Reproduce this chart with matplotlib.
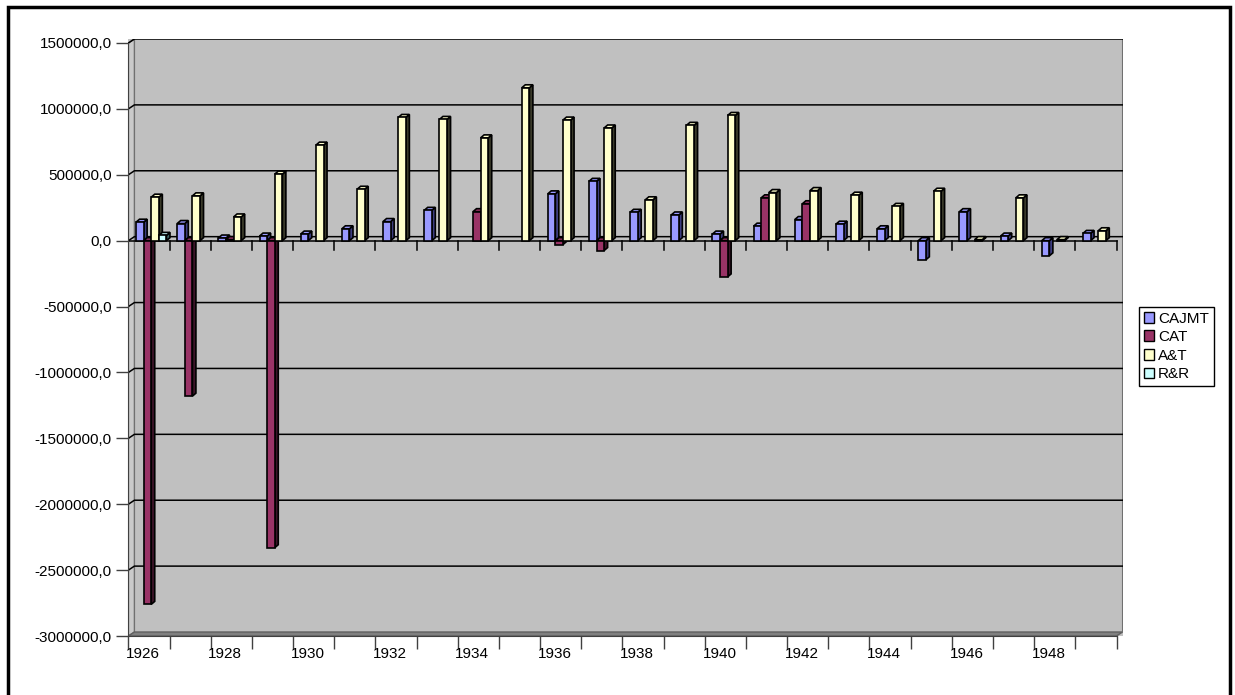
import matplotlib
matplotlib.use("Agg")
import matplotlib.pyplot as plt
import numpy as np
from matplotlib.patches import Polygon, Rectangle, Patch
from matplotlib.ticker import FuncFormatter

plt.rcParams["font.family"] = ["Liberation Sans", "DejaVu Sans"]

years = list(range(1926, 1950))
series_names = ["CAJMT", "CAT", "A&T", "R&R"]
cajmt = [140000, 130000, 20000, 35000, 50000, 90000, 145000, 230000, 0, 0, 355000, 450000,
         215000, 195000, 50000, 110000, 160000, 125000, 90000, -145000, 220000, 35000, -115000, 55000]
cat = [-2760000, -1180000, 8000, -2330000, 0, 0, 0, 0, 220000, 0, -30000, -75000,
       0, 0, -275000, 325000, 280000, 0, 0, 0, 0, 0, 0, 0]
a_t = [330000, 340000, 180000, 505000, 725000, 390000, 935000, 920000, 780000, 1160000, 915000, 855000,
       310000, 875000, 950000, 365000, 380000, 345000, 260000, 375000, 8000, 325000, 8000, 75000]
r_r = [40000, 0, 0, 0, 0, 0, 0, 0, 0, 0, 0, 0,
       0, 0, 0, 0, 0, 0, 0, 0, 0, 0, 0, 0]
y_ticks = [1500000, 1000000, 500000, 0, -500000, -1000000, -1500000, -2000000, -2500000, -3000000]

face_colors = ["#9999FF", "#993366", "#FFFFCC", "#CCFFFF"]
side_colors = ["#3d3d80", "#3d1429", "#3a3a2a", "#3d6666"]

W, H = 1235, 695
fig = plt.figure(figsize=(W / 100, H / 100), dpi=100)
fig.patch.set_facecolor("white")

# axes geometry in pixels
x0_px, x1_px = 128.4, 1123.0
yb_px, yt_px = 636.0, 39.0
cat_px = (1116.5 - 128.4) / 24
ax = fig.add_axes([x0_px / W, 1 - yb_px / H, (x1_px - x0_px) / W, (yb_px - yt_px) / H])

ymin = -3000000
unit_per_px_y = 4500000 / (636.0 - 43.0)
ymax = 1500000 + 4 * unit_per_px_y
xmin = -0.5
xmax = xmin + (x1_px - x0_px) / cat_px
ax.set_xlim(xmin, xmax)
ax.set_ylim(ymin, ymax)
ax.set_facecolor("#C0C0C0")

px = 1 / cat_px          # one pixel in x data units
py = unit_per_px_y       # one pixel in y data units
dxw, dyw = 6 * px, 4 * py  # wall depth

for s in ["top", "right"]:
    ax.spines[s].set_visible(False)
ax.spines["left"].set_color("#404040")
ax.spines["left"].set_bounds(ymin, 1500000)
ax.spines["bottom"].set_bounds(-0.5, 23.5)
ax.spines["bottom"].set_color("#404040")

# left wall and floor
ax.add_patch(Polygon([(xmin, ymin), (xmin, ymax - dyw), (xmin + dxw, ymax), (xmin + dxw, ymin + dyw)],
                     closed=True, facecolor="#CACACA", edgecolor="#707070", lw=1, zorder=1))
ax.add_patch(Polygon([(xmin, ymin), (23.5, ymin), (23.5 + dxw, ymin + dyw), (xmin + dxw, ymin + dyw)],
                     closed=True, facecolor="#808080", edgecolor="#606060", lw=1, zorder=1))
ax.plot([xmax - 0.5 * px, xmax - 0.5 * px], [ymin + dyw, ymax], color="#707070", lw=1.5, zorder=1)

# gridlines on back wall
for yv in y_ticks[:-1]:
    ax.plot([xmin, xmin + dxw, xmax], [yv, yv + dyw, yv + dyw], color="black", lw=1.1, zorder=2)

# zero axis with tick marks
ax.plot([xmin, 23.5], [0, 0], color="black", lw=1.1, zorder=2)
for b in np.arange(-0.5, 24.0, 1.0):
    ax.plot([b, b], [0, -9 * py], color="black", lw=1.1, zorder=2)

# 3D-looking bars
bw = 7.6 / cat_px
offsets = [-0.2225, -0.0375, 0.1475, 0.3325]
bdx, bdy = 3.5 * px, 3 * py
xs = np.arange(len(years))
for i, vals in enumerate([cajmt, cat, a_t, r_r]):
    for xc, v in zip(xs, vals):
        if v == 0:
            continue
        xl = xc + offsets[i] - bw / 2
        xr = xl + bw
        lo, hi = min(v, 0), max(v, 0)
        z = 3 + i
        ax.bar(xl + bw / 2, v, width=bw, color=face_colors[i], edgecolor="black", lw=1.2, zorder=z + 0.2)
        ax.add_patch(Polygon([(xr, lo), (xr, hi), (xr + bdx, hi + bdy), (xr + bdx, lo + bdy)],
                             closed=True, facecolor=side_colors[i], edgecolor="black", lw=1.2, zorder=z))
        ax.add_patch(Polygon([(xl, hi), (xr, hi), (xr + bdx, hi + bdy), (xl + bdx, hi + bdy)],
                             closed=True, facecolor=face_colors[i], edgecolor="black", lw=1.2, zorder=z + 0.1))

# axis ticks and labels
ax.set_yticks(y_ticks)
ax.yaxis.set_major_formatter(FuncFormatter(lambda v, p: f"{v:.1f}".replace(".", ",")))
ax.tick_params(axis="y", direction="out", length=9, width=1, color="#404040", labelsize=11, pad=3)
ax.set_xticks(np.arange(-0.5, 24.0, 1.0))
ax.set_xticklabels([])
ax.set_xticks(xs[::2] - 6 * px, minor=True)
ax.set_xticklabels([str(y) for y in years[::2]], minor=True)
ax.tick_params(axis="x", which="major", direction="out", length=9, width=1, color="#404040")
ax.tick_params(axis="x", which="minor", length=0, labelsize=11, pad=8)

handles = [Patch(facecolor=c, edgecolor="black", lw=1) for c in face_colors]
fig.legend(handles, series_names, loc="upper left", bbox_to_anchor=(1139 / W, 1 - 307 / H),
           fontsize=11, frameon=True, fancybox=False, edgecolor="black", framealpha=1,
           handlelength=0.7, handleheight=0.7, handletextpad=0.25, borderpad=0.3,
           labelspacing=0.3, borderaxespad=0)

# outer frame of the pasted chart
fig.add_artist(Rectangle((8 / W, -0.05), (1230 - 8) / W, 1.05 - 7 / H, transform=fig.transFigure,
                         fill=False, edgecolor="black", lw=2.5, clip_on=False))

fig.savefig("out.png", dpi=100)
